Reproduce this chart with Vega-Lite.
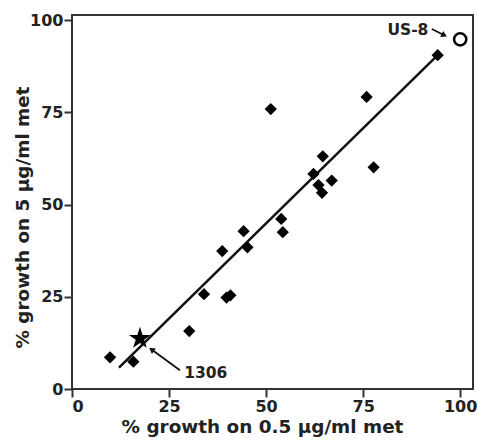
{
  "$schema": "https://vega.github.io/schema/vega-lite/v6.json",
  "autosize": {"type": "none"},
  "padding": {"left": 72, "top": 15, "right": 5, "bottom": 59},
  "width": 401,
  "height": 374,
  "background": "white",
  "config": {
    "view": {"stroke": "#333333", "strokeWidth": 2},
    "font": "DejaVu Sans",
    "axis": {
      "domain": false,
      "grid": false,
      "ticks": true,
      "tickSize": 8,
      "tickWidth": 2,
      "tickColor": "#333333",
      "labelFont": "DejaVu Sans",
      "labelFontWeight": "bold",
      "labelFontSize": 16,
      "labelColor": "#222222",
      "labelPadding": 1,
      "titleFont": "DejaVu Sans",
      "titleFontWeight": "bold",
      "titleFontSize": 18.4,
      "titleColor": "#222222"
    }
  },
  "datasets": {
    "strains": [
      {"x": 51.2, "y": 75.9},
      {"x": 75.9, "y": 79.2},
      {"x": 94.2, "y": 90.5},
      {"x": 64.6, "y": 63.1},
      {"x": 77.7, "y": 60.1},
      {"x": 62.2, "y": 58.3},
      {"x": 63.5, "y": 55.3},
      {"x": 64.4, "y": 53.2},
      {"x": 66.9, "y": 56.5},
      {"x": 53.9, "y": 46.1},
      {"x": 54.3, "y": 42.5},
      {"x": 44.2, "y": 42.8},
      {"x": 45.2, "y": 38.4},
      {"x": 38.7, "y": 37.4},
      {"x": 34.0, "y": 25.7},
      {"x": 39.8, "y": 24.8},
      {"x": 40.8, "y": 25.4},
      {"x": 30.2, "y": 15.7},
      {"x": 9.8, "y": 8.6},
      {"x": 15.8, "y": 7.4}
    ],
    "fit": [
      {"x": 12.1, "y": 5.8},
      {"x": 94.2, "y": 90.5}
    ],
    "star": [{"x": 17.5, "y": 13.7}],
    "ring": [{"x": 100, "y": 94.8}],
    "arrows": [
      {"x": 27.8, "y": 5.1, "xEnd": 20.5, "yEnd": 10.7},
      {"x": 92.7, "y": 97.6, "xEnd": 95.9, "yEnd": 95.9}
    ],
    "heads": [
      {"x": 20.5, "y": 10.7, "angle": 307},
      {"x": 95.9, "y": 95.9, "angle": 117}
    ],
    "labelLeft": [{"x": 28.9, "y": 4.3, "text": "1306"}],
    "labelRight": [{"x": 91.8, "y": 97.4, "text": "US-8"}]
  },
  "encoding": {
    "x": {
      "field": "x",
      "type": "quantitative",
      "scale": {"domain": [0, 103.3], "nice": false, "zero": false},
      "axis": {
        "values": [0, 25, 50, 75, 100],
        "title": "% growth on 0.5 µg/ml met",
        "titleX": 190,
        "titleY": 43,
        "titleAlign": "center",
        "titleBaseline": "alphabetic"
      }
    },
    "y": {
      "field": "y",
      "type": "quantitative",
      "scale": {"domain": [0, 101.4], "nice": false, "zero": false},
      "axis": {
        "values": [0, 25, 50, 75, 100],
        "title": "% growth on 5 µg/ml met",
        "titleX": -43.5,
        "titleY": 202,
        "titleAngle": -90,
        "titleAlign": "center",
        "titleBaseline": "alphabetic"
      }
    }
  },
  "layer": [
    {
      "data": {"name": "fit"},
      "mark": {"type": "line", "color": "#111111", "strokeWidth": 2.5}
    },
    {
      "data": {"name": "strains"},
      "mark": {"type": "point", "shape": "diamond", "filled": true, "color": "#000000", "size": 150, "opacity": 1}
    },
    {
      "data": {"name": "star"},
      "mark": {
        "type": "point",
        "shape": "M0,-1L0.2234,-0.3074L0.9511,-0.309L0.3614,0.1174L0.5878,0.809L0,0.38L-0.5878,0.809L-0.3614,0.1174L-0.9511,-0.309L-0.2234,-0.3074Z",
        "filled": true,
        "color": "#000000",
        "size": 540,
        "opacity": 1
      }
    },
    {
      "data": {"name": "ring"},
      "mark": {"type": "point", "shape": "circle", "filled": false, "color": "#000000", "size": 150, "strokeWidth": 2.5, "opacity": 1}
    },
    {
      "data": {"name": "arrows"},
      "mark": {"type": "rule", "color": "#111111", "strokeWidth": 1.8},
      "encoding": {
        "x2": {"field": "xEnd"},
        "y2": {"field": "yEnd"}
      }
    },
    {
      "data": {"name": "heads"},
      "mark": {"type": "point", "shape": "triangle-up", "filled": true, "color": "#111111", "size": 45, "opacity": 1},
      "encoding": {
        "angle": {"field": "angle", "type": "quantitative", "scale": null}
      }
    },
    {
      "data": {"name": "labelLeft"},
      "mark": {"type": "text", "font": "DejaVu Sans", "fontWeight": "bold", "fontSize": 15.5, "color": "#222222", "baseline": "middle", "align": "left"},
      "encoding": {"text": {"field": "text"}}
    },
    {
      "data": {"name": "labelRight"},
      "mark": {"type": "text", "font": "DejaVu Sans", "fontWeight": "bold", "fontSize": 15.5, "color": "#222222", "baseline": "middle", "align": "right"},
      "encoding": {"text": {"field": "text"}}
    }
  ]
}
